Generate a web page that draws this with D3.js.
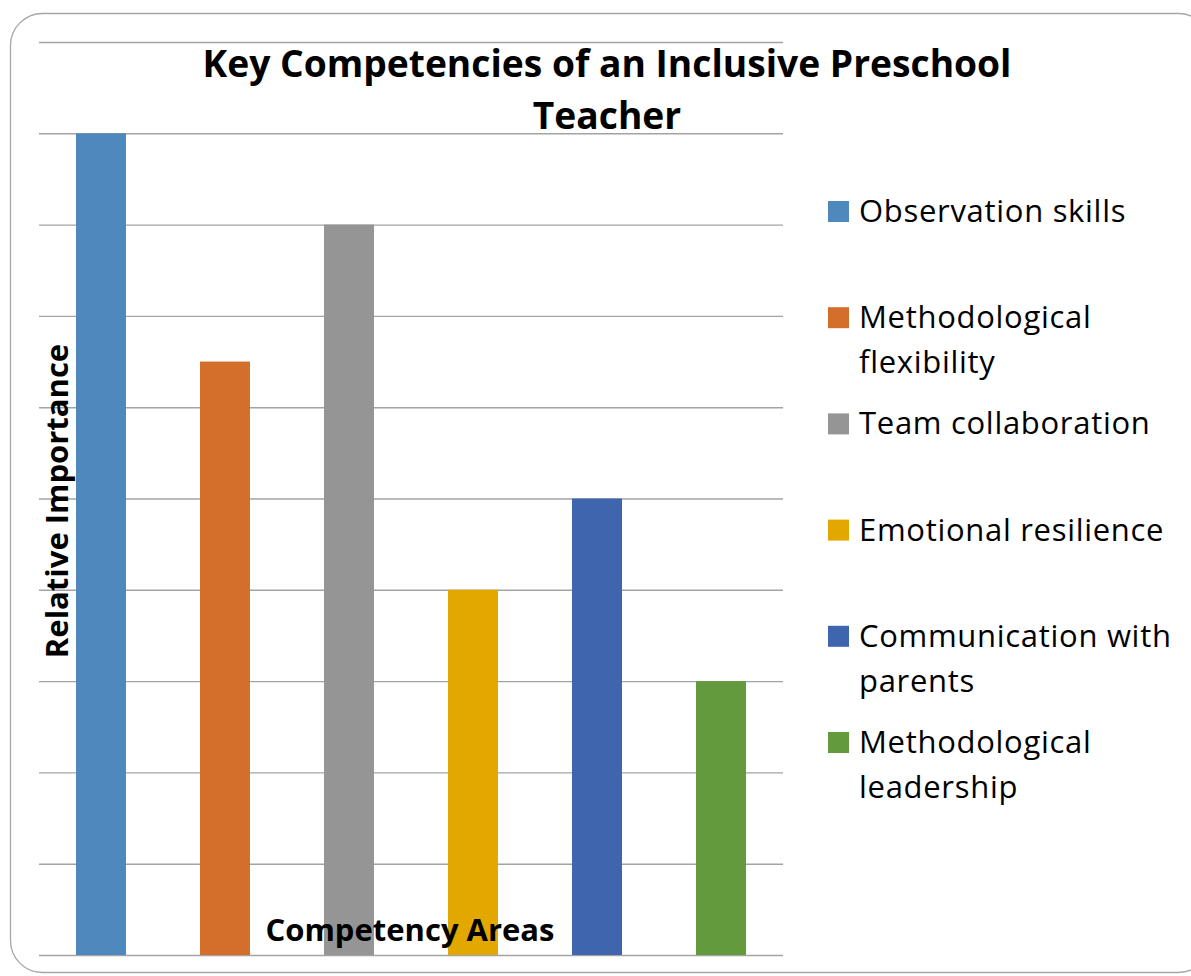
<!DOCTYPE html>
<html>
<head>
<meta charset="utf-8">
<script src="https://cdn.jsdelivr.net/npm/d3@7"></script>
<style>
  body { margin: 0; background: #fff; }
  svg text { font-family: "Open Sans", "Lato", sans-serif; fill: #000; }
</style>
</head>
<body>
<div id="chart"></div>
<script>
const width = 1191;
const height = 976;

// chart data
const categories = ["Observation skills", "Methodological flexibility", "Team collaboration",
  "Emotional resilience", "Communication with parents", "Methodological leadership"];
const values = [9, 6.5, 8, 4, 5, 3];
const colors = ["#4f88bd", "#d36f2b", "#959595", "#e3a800", "#3e65ad", "#639a3e"];
const legendLines = [["Observation skills"], ["Methodological", "flexibility"], ["Team collaboration"],
  ["Emotional resilience"], ["Communication with", "parents"], ["Methodological", "leadership"]];
const yTicks = [0, 1, 2, 3, 4, 5, 6, 7, 8, 9, 10];

const plot = { left: 39, right: 783, top: 42, bottom: 955 };

var svg = d3.select("#chart")
  .append("svg")
  .attr("width", width)
  .attr("height", height);

// outer frame
svg.append("rect")
  .attr("x", 10.5).attr("y", 13.5)
  .attr("width", 1200).attr("height", 959)
  .attr("rx", 32).attr("ry", 32)
  .attr("fill", "none")
  .attr("stroke", "#a6a6a6")
  .attr("stroke-width", 1.3);

let x = d3.scaleBand()
  .domain(categories)
  .range([plot.left, plot.right])
  .padding(0);

let y = d3.scaleLinear()
  .domain([0, 10])
  .range([plot.bottom, plot.top]);

// gridlines via axis
let grid = svg.append("g")
  .attr("transform", "translate(" + plot.left + ",0)")
  .call(d3.axisLeft(y).tickValues(yTicks).tickSize(-(plot.right - plot.left)).tickFormat(""));
grid.select(".domain").remove();
grid.selectAll(".tick line")
  .attr("stroke", "#a3a3a3")
  .attr("stroke-width", 1.4);

// bars
const barW = x.bandwidth() * 0.403;
svg.selectAll("rect.bar")
  .data(categories)
  .enter()
  .append("rect")
  .attr("class", "bar")
  .attr("x", function (d) { return x(d) + (x.bandwidth() - barW) / 2; })
  .attr("y", function (d, i) { return y(values[i]); })
  .attr("width", barW)
  .attr("height", function (d, i) { return y(0) - y(values[i]); })
  .attr("fill", function (d, i) { return colors[i]; });

// title
let title = svg.append("text")
  .attr("text-anchor", "middle")
  .attr("font-size", 37.2)
  .attr("font-weight", "bold");
title.append("tspan").attr("x", 607).attr("y", 77).text("Key Competencies of an Inclusive Preschool");
title.append("tspan").attr("x", 607).attr("y", 129).text("Teacher");

// axis titles
svg.append("text")
  .attr("transform", "translate(68,501) rotate(-90)")
  .attr("text-anchor", "middle")
  .attr("font-size", 31)
  .attr("font-weight", "bold")
  .text("Relative Importance");

svg.append("text")
  .attr("x", 410).attr("y", 941)
  .attr("text-anchor", "middle")
  .attr("font-size", 31)
  .attr("font-weight", "bold")
  .text("Competency Areas");

// legend
let legend = svg.append("g");
legendLines.forEach(function (lines, i) {
  let top = 201 + i * 106.2;
  legend.append("rect")
    .attr("x", 828).attr("y", top)
    .attr("width", 21).attr("height", 21)
    .attr("fill", colors[i]);
  let t = legend.append("text").attr("font-size", 31).attr("letter-spacing", 0.7);
  lines.forEach(function (ln, j) {
    t.append("tspan").attr("x", 859).attr("y", top + 21 + j * 45).text(ln);
  });
});
</script>
</body>
</html>
